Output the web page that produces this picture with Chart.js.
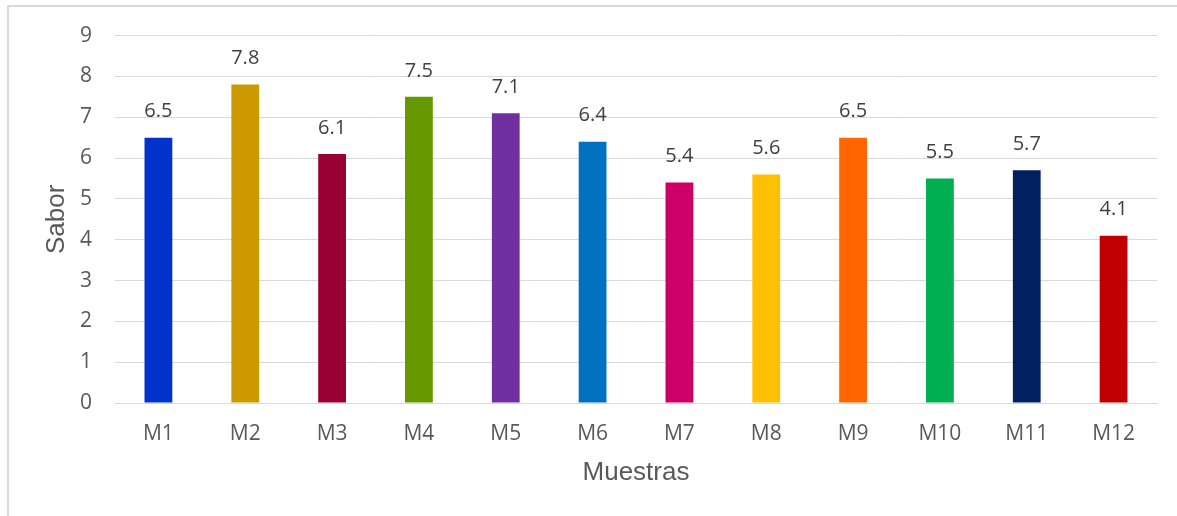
<!DOCTYPE html>
<html>
<head>
<meta charset="utf-8">
<script src="https://cdn.jsdelivr.net/npm/chart.js@4"></script>
<style>
    html, body { margin: 0; padding: 0; background: #fff; overflow: hidden; }
    #wrap { position: relative; width: 1177px; height: 516px; }
    #frame { position: absolute; left: 7px; top: 5px; width: 1200px; height: 560px; border: 2px solid #d9d9d9; box-sizing: border-box; }
    #saborChart { position: absolute; left: 0; top: 0; }
</style>
</head>
<body>
<div id="wrap">
    <div id="frame"></div>
    <canvas id="saborChart" width="1177" height="516"></canvas>
</div>
<script>
    'use strict';

    // Puntaje de sabor por muestra
    const muestras = ['M1', 'M2', 'M3', 'M4', 'M5', 'M6', 'M7', 'M8', 'M9', 'M10', 'M11', 'M12'];
    const sabor = [6.5, 7.8, 6.1, 7.5, 7.1, 6.4, 5.4, 5.6, 6.5, 5.5, 5.7, 4.1];
    const colores = ['#0033cc', '#cc9900', '#990033', '#669900', '#7030a0', '#0070c0',
                     '#cc0066', '#ffc000', '#ff6600', '#00b050', '#002060', '#c00000'];

    const tickFont = '"Open Sans", "Liberation Sans", sans-serif';
    const titleFont = '"Liberation Sans", Arial, sans-serif';

    // Writes each bar's value above it
    const valueLabels = {
        id: 'valueLabels',
        afterDatasetsDraw(chart) {
            const ctx = chart.ctx;
            const meta = chart.getDatasetMeta(0);
            ctx.save();
            ctx.font = '20px ' + tickFont;
            ctx.fillStyle = '#404040';
            ctx.textAlign = 'center';
            ctx.textBaseline = 'middle';
            meta.data.forEach(function(bar, i) {
                ctx.fillText(sabor[i].toFixed(1), bar.x, bar.y - 26);
            });
            ctx.restore();
        }
    };

    const ctx = document.getElementById('saborChart').getContext('2d');
    new Chart(ctx, {
        type: 'bar',
        data: {
            labels: muestras,
            datasets: [{
                label: 'Sabor',
                data: sabor,
                backgroundColor: colores,
                borderWidth: 0,
                barPercentage: 0.64,
                categoryPercentage: 0.5
            }]
        },
        options: {
            responsive: false,
            animation: false,
            layout: { padding: { top: 35, right: 20, left: 0, bottom: 0 } },
            plugins: {
                legend: { display: false },
                tooltip: { enabled: false }
            },
            scales: {
                x: {
                    afterFit: function(scale) { scale.height = 113; },
                    grid: { display: false, drawTicks: false },
                    border: { color: '#d9d9d9', width: 1 },
                    ticks: {
                        padding: 18,
                        color: '#595959',
                        font: { family: tickFont, size: 21 }
                    },
                    title: {
                        display: true,
                        text: 'Muestras',
                        color: '#595959',
                        font: { family: titleFont, size: 26 },
                        padding: { top: 0, bottom: 28 }
                    }
                },
                y: {
                    min: 0,
                    max: 9,
                    afterFit: function(scale) { scale.width = 115; },
                    grid: { color: '#d9d9d9', lineWidth: 1, drawTicks: false },
                    border: { display: false },
                    ticks: {
                        stepSize: 1,
                        padding: 23,
                        color: '#595959',
                        font: { family: tickFont, size: 21 }
                    },
                    title: {
                        display: true,
                        text: 'Sabor',
                        color: '#595959',
                        font: { family: titleFont, size: 26 },
                        padding: { top: 41, bottom: 0 }
                    }
                }
            }
        },
        plugins: [valueLabels]
    });
</script>
</body>
</html>
